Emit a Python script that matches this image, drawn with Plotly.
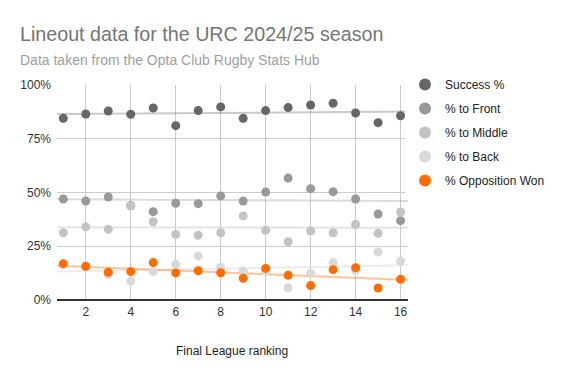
import numpy as np
import plotly.graph_objects as go

ranking = list(range(1, 17))
success = [84.5, 86.5, 87.9, 86.4, 89.3, 81.1, 88.1, 89.8, 84.5, 88.1, 89.5, 90.7, 91.5, 87.0, 82.5, 85.7]
to_front = [47.0, 46.0, 47.9, 43.9, 41.1, 45.0, 44.8, 48.4, 46.0, 50.2, 56.7, 51.8, 50.4, 47.0, 40.0, 36.9]
to_middle = [31.3, 34.0, 32.9, 43.7, 36.4, 30.5, 30.1, 31.3, 39.1, 32.4, 27.1, 32.1, 31.3, 35.2, 31.0, 40.9]
to_back = [16.5, 15.5, 11.8, 8.8, 13.2, 16.6, 20.5, 15.3, 13.5, 13.6, 5.7, 12.4, 17.4, 13.8, 22.3, 18.1]
opp_won = [16.9, 15.7, 12.9, 13.2, 17.4, 12.6, 13.6, 12.7, 10.1, 14.7, 11.5, 6.7, 14.1, 15.0, 5.6, 9.6]
y_ticks = [0, 25, 50, 75, 100]
y_labels = ["0%", "25%", "50%", "75%", "100%"]
x_ticks = [2, 4, 6, 8, 10, 12, 14, 16]

series = [
    ("Success %", success, "#666666", "rgba(102,102,102,0.35)"),
    ("% to Front", to_front, "#999999", "rgba(153,153,153,0.35)"),
    ("% to Middle", to_middle, "#c3c3c3", "rgba(195,195,195,0.45)"),
    ("% to Back", to_back, "#d9d9d9", "rgba(217,217,217,0.5)"),
    ("% Opposition Won", opp_won, "#ff6d01", "rgba(255,109,1,0.4)"),
]

W, H = 566, 371
OFF = 8  # page body margin
PL, PT, PW, PH = 57, 85, 351, 215  # plot area in page pixels
L, T = PL - OFF, PT - OFF
R, B = W - L - PW, H - T - PH

fig = go.Figure()
x = np.array(ranking, dtype=float)
xr = [0.72, 16.33]
for name, vals, col, tcol in series:
    m, b = np.polyfit(x, np.array(vals), 1)
    fig.add_trace(go.Scatter(x=xr, y=[m * xr[0] + b, m * xr[1] + b], mode="lines",
                             line=dict(color=tcol, width=2), showlegend=False, hoverinfo="skip"))
for i, (name, vals, col, tcol) in enumerate(series):
    fig.add_trace(go.Scatter(x=ranking, y=vals, mode="markers", name=name, legendgroup=f"g{i}",
                             marker=dict(color=col, size=9)))

def px_x(p):
    return (p - PL) / PW

def px_y(p):
    return (PT + PH - p) / PH

fig.update_layout(
    width=W, height=H,
    margin=dict(l=L, r=R, t=T, b=B, autoexpand=False),
    paper_bgcolor="white", plot_bgcolor="white",
    font=dict(family="Arial, Liberation Sans, sans-serif", color="#444444", size=12),
    annotations=[
        dict(text="Lineout data for the URC 2024/25 season", xref="paper", yref="paper",
             x=px_x(18), y=px_y(34), xanchor="left", yanchor="middle", showarrow=False,
             font=dict(size=19.7, color="#757575")),
        dict(text="Data taken from the Opta Club Rugby Stats Hub", xref="paper", yref="paper",
             x=px_x(18), y=px_y(60), xanchor="left", yanchor="middle", showarrow=False,
             font=dict(size=14, color="#a0a0a0")),
        dict(text="Final League ranking", xref="paper", yref="paper",
             x=px_x(232), y=px_y(351), xanchor="center", yanchor="middle", showarrow=False,
             font=dict(size=12, color="#222222")),
    ],
    legend=dict(x=px_x(405), y=px_y(70), xanchor="left", yanchor="top",
                font=dict(size=12, color="#222222"), tracegroupgap=5, itemsizing="constant"),
    showlegend=True,
)
fig.update_xaxes(range=xr, tickvals=x_ticks, showgrid=True, gridcolor="#cccccc",
                 zeroline=False, showline=False, ticks="", automargin=False, ticklabelstandoff=3,
                 tickfont=dict(size=12, color="#333333"))
fig.update_yaxes(range=[0, 100], tickvals=y_ticks, ticktext=y_labels, showgrid=True,
                 gridcolor="#cccccc", zeroline=True, zerolinecolor="#333333", zerolinewidth=1.5,
                 showline=False, ticks="", automargin=False, ticklabelstandoff=5,
                 tickfont=dict(size=12, color="#333333"))
fig.write_html("out.html")
